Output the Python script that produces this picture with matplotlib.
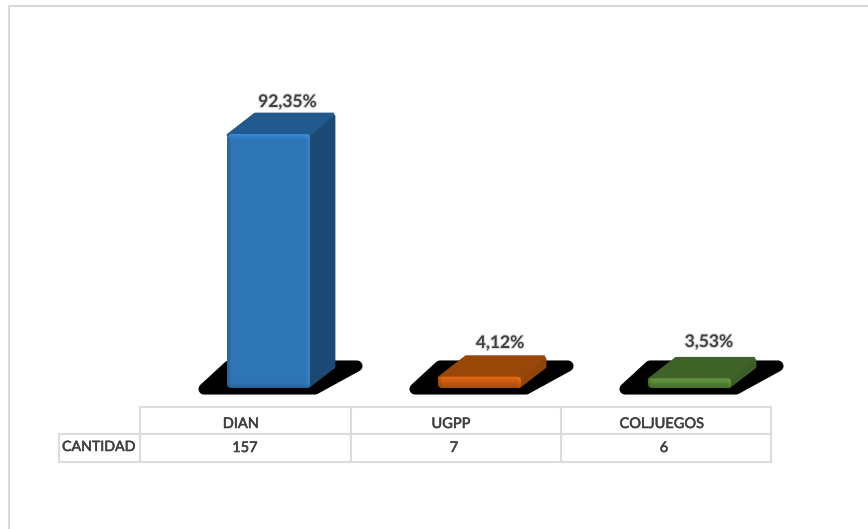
import numpy as np
import matplotlib
matplotlib.use("Agg")
import matplotlib.pyplot as plt
from matplotlib.patches import Polygon, FancyBboxPatch
import matplotlib.patheffects as pe

categories = ["DIAN", "UGPP", "COLJUEGOS"]
percent = [92.35, 4.12, 3.53]
percent_labels = ["92,35%", "4,12%", "3,53%"]
cantidad = [157, 7, 6]
row_label = "CANTIDAD"

front_colors = ["#2e75b6", "#c55a11", "#548235"]
top_colors = ["#225a8e", "#984709", "#3f6228"]
side_colors = ["#1d4a75", "#914408", "#3c5e26"]
grid_color = "#dcdcdc"
text_color = "#404040"

W, H = 868, 529
base_y = 388
px_per_pct = 254 / 92.35
bar_lefts = [227, 438, 648]
label_x = [287.5, 500, 709]
label_y = [102, 343, 342]
bar_w = 83
dx, dy = 24, 21

plt.rcParams['font.family'] = ['Lato', 'DejaVu Sans']
fig = plt.figure(figsize=(W / 100, H / 100), dpi=100)
ax = fig.add_axes([0, 0, 1, 1])
ax.set_xlim(0, W)
ax.set_ylim(H, 0)
ax.axis("off")

# chart frame, open at the bottom and right
ax.plot([868, 8.5, 8.5], [6, 6, 529], color="#d9d9d9", lw=1.5)


def draw_bar(left, pct, front, top_c, side, label, lx, ly):
    y_top = base_y - pct * px_per_pct
    right = left + bar_w
    # shadow on the floor
    ax.add_patch(Polygon([(left - 23, base_y + 1), (right + 5, base_y + 1),
                          (right + 47, base_y - 22), (left + 2, base_y - 22)],
                         closed=True, fc="black", ec="black", lw=8,
                         joinstyle="round", zorder=2))
    ax.add_patch(Polygon([(right - 2, y_top + 1), (right + dx, y_top - dy + 3),
                          (right + dx, base_y - dy), (right - 2, base_y - 1)],
                         closed=True, fc=side, ec=side, lw=2,
                         joinstyle="round", zorder=3))
    ax.add_patch(Polygon([(left + 1, y_top + 1), (left + 28, y_top - dy + 1),
                          (right + dx - 1, y_top - dy + 1), (right - 1, y_top + 1)],
                         closed=True, fc=top_c, ec=top_c, lw=2,
                         joinstyle="round", zorder=4))
    # front face with bevelled edges
    box = FancyBboxPatch((left + 3, y_top + 3), bar_w - 6, pct * px_per_pct - 6,
                         boxstyle="round,pad=3,rounding_size=4",
                         fc="none", ec="none", zorder=5)
    ax.add_patch(box)
    rgb = np.array(matplotlib.colors.to_rgb(front))
    h = max(int(base_y - y_top), 2)
    xs = np.minimum(np.arange(bar_w) / 4, 1)
    xr = np.minimum((bar_w - 1 - np.arange(bar_w)) / 4, 1)
    ys = np.minimum(np.arange(h) / 5, 1)
    yb = np.minimum((h - 1 - np.arange(h)) / 5, 1)
    shade = np.ones((h, bar_w))
    shade *= (0.85 + 0.15 * xs)[None, :]
    shade *= (0.85 + 0.15 * yb)[:, None]
    shade *= (1.18 - 0.18 * ys)[:, None]
    shade *= (1.12 - 0.12 * xr)[None, :]
    img = np.clip(shade[..., None] * rgb, 0, 1)
    im = ax.imshow(img, extent=(left, right, base_y, y_top), zorder=5,
                   interpolation="bilinear", aspect="auto")
    im.set_clip_path(box)
    ax.text(lx, ly, label, ha="center", va="center",
            fontsize=12.5, fontweight="bold", color=text_color, zorder=6,
            path_effects=[pe.withStroke(linewidth=1.5, foreground="#dddddd")])


for i in range(len(categories)):
    draw_bar(bar_lefts[i], percent[i], front_colors[i], top_colors[i],
             side_colors[i], percent_labels[i], label_x[i], label_y[i])
ax.set_xlim(0, W)
ax.set_ylim(H, 0)

# data table under the bars
col_edges = [140, 351, 561, 771]
table_top, table_mid, table_bot = 407, 434, 462
row_left = 59
lw = 1.5
ax.plot([col_edges[0], col_edges[-1]], [table_top, table_top], color=grid_color, lw=lw)
ax.plot([row_left, col_edges[-1]], [table_mid, table_mid], color=grid_color, lw=lw)
ax.plot([row_left, col_edges[-1]], [table_bot, table_bot], color=grid_color, lw=lw)
ax.plot([row_left, row_left], [table_mid, table_bot], color=grid_color, lw=lw)
for x in col_edges:
    ax.plot([x, x], [table_top, table_bot], color=grid_color, lw=lw)

heavy = [pe.withStroke(linewidth=0.4, foreground=text_color)]
cat_x = [241, 451, 662]
val_x = [245, 454, 664]
for i in range(len(categories)):
    ax.text(cat_x[i], 424, categories[i], ha="center", va="center",
            fontsize=10.5, color=text_color, path_effects=heavy)
    ax.text(val_x[i], 448, str(cantidad[i]), ha="center", va="center",
            fontsize=10.5, color=text_color, path_effects=heavy)
ax.text(98.5, 447, row_label, ha="center", va="center", fontsize=10.2,
        color=text_color, path_effects=heavy)

fig.savefig("out.png", dpi=100, facecolor="white")
